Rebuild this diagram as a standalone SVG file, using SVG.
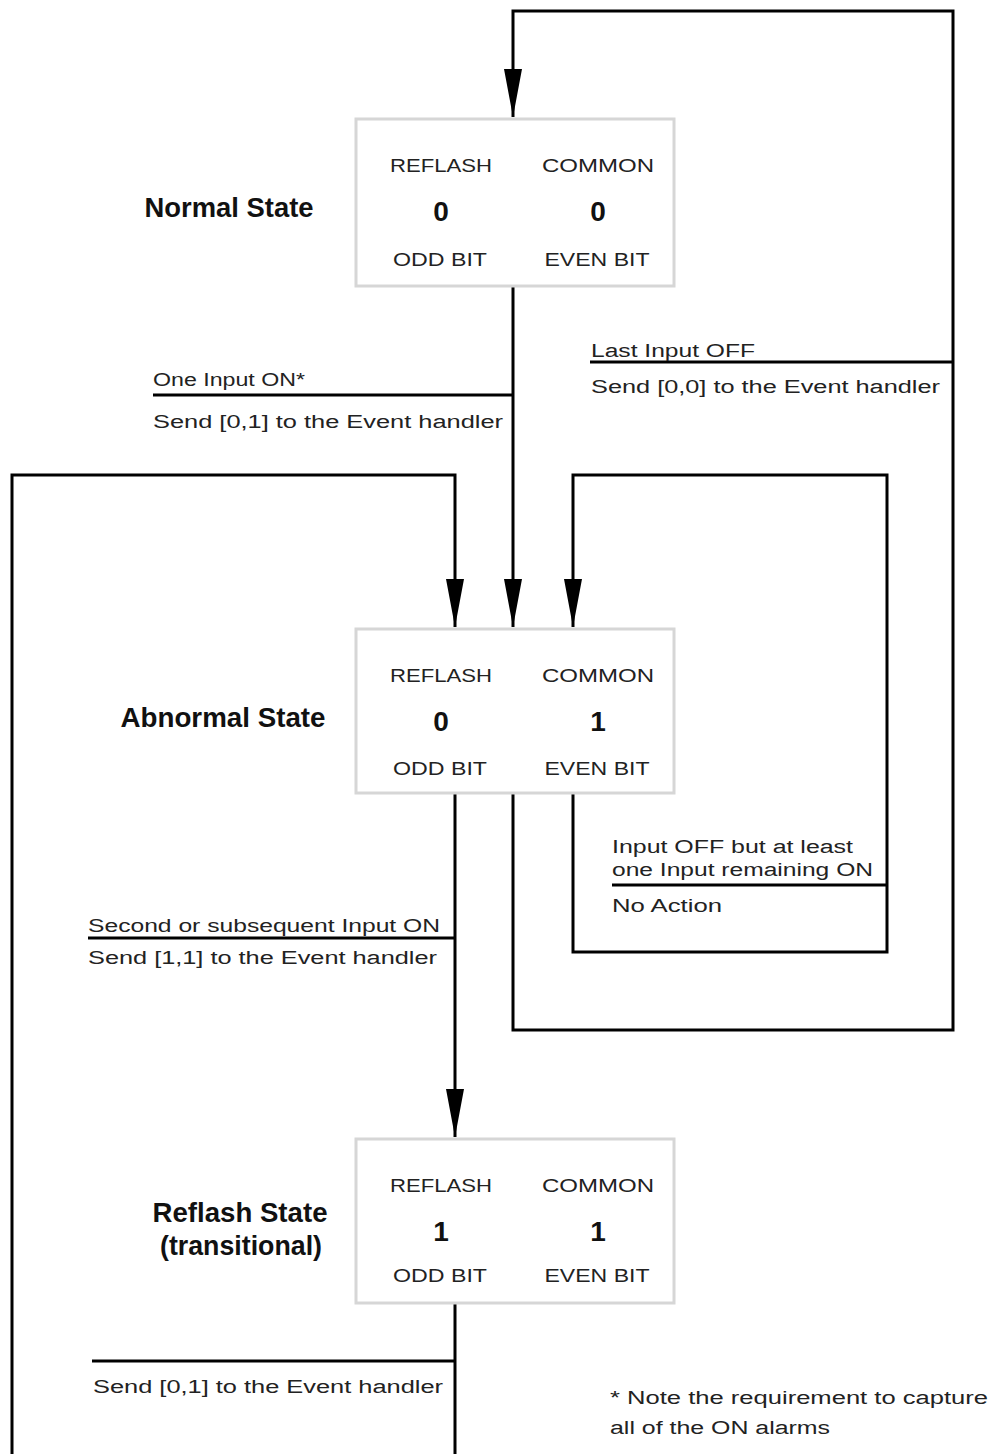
<svg xmlns="http://www.w3.org/2000/svg" width="990" height="1454" viewBox="0 0 990 1454">
<style>
.box{fill:#fff;stroke:#d6d6d6;stroke-width:3}
.ln{fill:none;stroke:#000;stroke-width:3}
.t{font-family:"Liberation Sans",Arial,sans-serif;fill:#222;font-size:18px}
.bt{font-family:"Liberation Sans",Arial,sans-serif;fill:#222;font-size:18px;text-anchor:middle}
.dg{font-family:"Liberation Sans",Arial,sans-serif;fill:#111;font-size:28px;font-weight:bold;text-anchor:middle}
.st{font-family:"Liberation Sans",Arial,sans-serif;fill:#111;font-size:28px;font-weight:bold;text-anchor:middle}
</style>
<defs>
<marker id="arr" markerUnits="userSpaceOnUse" viewBox="0 0 48 18" markerWidth="48" markerHeight="18" refX="48" refY="9" orient="auto">
<path d="M0,0 L48,9 L0,18 Z" fill="#000"/>
</marker>
</defs>
<rect width="990" height="1454" fill="#fff"/>
<g id="connectors">
<path class="ln" d="M513,793 V1030 H953 V11 H513 V117" marker-end="url(#arr)"/>
<path class="ln" d="M590,362 H953"/>
<path class="ln" d="M513,287 V627" marker-end="url(#arr)"/>
<path class="ln" d="M153,395 H513"/>
<path class="ln" d="M455,1303 V1460 M12,1460 V475 H455 V627" marker-end="url(#arr)"/>
<path class="ln" d="M92,1361 H455"/>
<path class="ln" d="M573,793 V952 H887 V475 H573 V627" marker-end="url(#arr)"/>
<path class="ln" d="M612,885 H887"/>
<path class="ln" d="M455,793 V1137" marker-end="url(#arr)"/>
<path class="ln" d="M88,938 H455"/>
</g>
<g id="labels">
<text class="t" x="153" y="386" textLength="152" lengthAdjust="spacingAndGlyphs">One Input ON*</text>
<text class="t" x="153" y="428" textLength="350" lengthAdjust="spacingAndGlyphs">Send [0,1] to the Event handler</text>
<text class="t" x="591" y="357" textLength="164" lengthAdjust="spacingAndGlyphs">Last Input OFF</text>
<text class="t" x="591" y="393" textLength="349" lengthAdjust="spacingAndGlyphs">Send [0,0] to the Event handler</text>
<text class="t" x="612" y="853" textLength="241" lengthAdjust="spacingAndGlyphs">Input OFF but at least</text>
<text class="t" x="612" y="876" textLength="261" lengthAdjust="spacingAndGlyphs">one Input remaining ON</text>
<text class="t" x="612" y="912" textLength="110" lengthAdjust="spacingAndGlyphs">No Action</text>
<text class="t" x="88" y="932" textLength="352" lengthAdjust="spacingAndGlyphs">Second or subsequent Input ON</text>
<text class="t" x="88" y="964" textLength="349" lengthAdjust="spacingAndGlyphs">Send [1,1] to the Event handler</text>
<text class="t" x="93" y="1393" textLength="350" lengthAdjust="spacingAndGlyphs">Send [0,1] to the Event handler</text>
<text class="t" x="610" y="1404" textLength="378" lengthAdjust="spacingAndGlyphs">*  Note the requirement to capture</text>
<text class="t" x="610" y="1434" textLength="220" lengthAdjust="spacingAndGlyphs">all of the ON alarms</text>
</g>
<g id="normal">
<rect class="box" x="356" y="119" width="318" height="167"/>
<text class="st" x="229" y="217" textLength="169" lengthAdjust="spacingAndGlyphs">Normal State</text>
<text class="bt" x="441" y="172" textLength="102" lengthAdjust="spacingAndGlyphs">REFLASH</text>
<text class="bt" x="598" y="172" textLength="112" lengthAdjust="spacingAndGlyphs">COMMON</text>
<text class="dg" x="441" y="221">0</text>
<text class="dg" x="598" y="221">0</text>
<text class="bt" x="440" y="266" textLength="94" lengthAdjust="spacingAndGlyphs">ODD BIT</text>
<text class="bt" x="597" y="266" textLength="105" lengthAdjust="spacingAndGlyphs">EVEN BIT</text>
</g>
<g id="abnormal">
<rect class="box" x="356" y="629" width="318" height="164"/>
<text class="st" x="223" y="727" textLength="205" lengthAdjust="spacingAndGlyphs">Abnormal State</text>
<text class="bt" x="441" y="682" textLength="102" lengthAdjust="spacingAndGlyphs">REFLASH</text>
<text class="bt" x="598" y="682" textLength="112" lengthAdjust="spacingAndGlyphs">COMMON</text>
<text class="dg" x="441" y="731">0</text>
<text class="dg" x="598" y="731">1</text>
<text class="bt" x="440" y="775" textLength="94" lengthAdjust="spacingAndGlyphs">ODD BIT</text>
<text class="bt" x="597" y="775" textLength="105" lengthAdjust="spacingAndGlyphs">EVEN BIT</text>
</g>
<g id="reflash">
<rect class="box" x="356" y="1139" width="318" height="164"/>
<text class="st" x="240" y="1222" textLength="175" lengthAdjust="spacingAndGlyphs">Reflash State</text>
<text class="st" x="241" y="1255" textLength="162" lengthAdjust="spacingAndGlyphs">(transitional)</text>
<text class="bt" x="441" y="1192" textLength="102" lengthAdjust="spacingAndGlyphs">REFLASH</text>
<text class="bt" x="598" y="1192" textLength="112" lengthAdjust="spacingAndGlyphs">COMMON</text>
<text class="dg" x="441" y="1241">1</text>
<text class="dg" x="598" y="1241">1</text>
<text class="bt" x="440" y="1282" textLength="94" lengthAdjust="spacingAndGlyphs">ODD BIT</text>
<text class="bt" x="597" y="1282" textLength="105" lengthAdjust="spacingAndGlyphs">EVEN BIT</text>
</g>
</svg>
